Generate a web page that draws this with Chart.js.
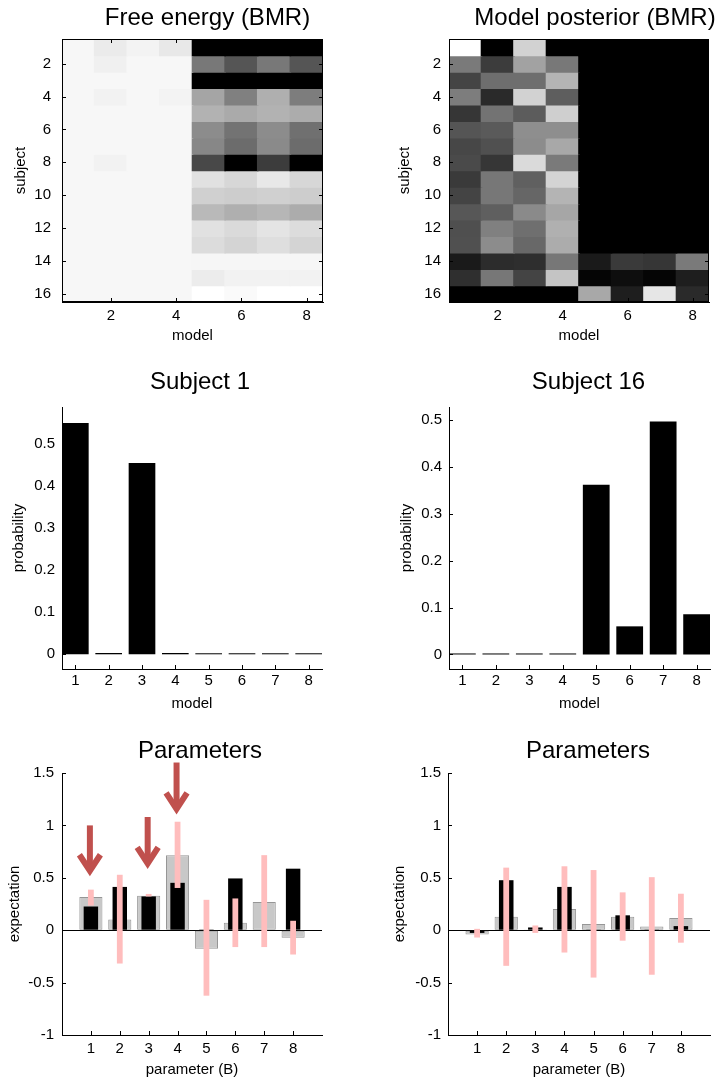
<!DOCTYPE html>
<html><head><meta charset="utf-8">
<script src="https://cdn.jsdelivr.net/npm/chart.js@4.4.1/dist/chart.umd.min.js"></script>
<style>
html,body{margin:0;padding:0;background:#fff;}
#wrap{position:relative;width:727px;height:1081px;overflow:hidden;background:#fff;}
canvas{position:absolute;}
</style></head><body><div id="wrap">
<canvas id="cTL" width="363" height="350" style="left:0px;top:0px"></canvas>
<canvas id="cTR" width="364" height="350" style="left:363px;top:0px"></canvas>
<canvas id="cML" width="363" height="370" style="left:0px;top:350px"></canvas>
<canvas id="cMR" width="364" height="370" style="left:363px;top:350px"></canvas>
<canvas id="cBL" width="363" height="361" style="left:0px;top:720px"></canvas>
<canvas id="cBR" width="364" height="361" style="left:363px;top:720px"></canvas>
</div>
<script>
// ---------------- data ----------------
const models = [1, 2, 3, 4, 5, 6, 7, 8];
const subjects = [1, 2, 3, 4, 5, 6, 7, 8, 9, 10, 11, 12, 13, 14, 15, 16];
const heatModelTicks = [2, 4, 6, 8];
const heatSubjectTicks = [2, 4, 6, 8, 10, 12, 14, 16];
const barModelTicks = [1, 2, 3, 4, 5, 6, 7, 8];
const probTicks = [0, 0.1, 0.2, 0.3, 0.4, 0.5];
const expectationTicks = [-1, -0.5, 0, 0.5, 1, 1.5];
const parameters = [1, 2, 3, 4, 5, 6, 7, 8];

// Free energy (BMR): grey level per cell (0 = black, 255 = white); rows = subjects, cols = models
const freeEnergyGray = [
  [247, 235, 243, 232,   0,   0,   0,   0],
  [247, 240, 247, 247, 120,  85, 120,  85],
  [247, 247, 247, 247,   0,   0,   0,   0],
  [247, 242, 247, 243, 165, 128, 175, 125],
  [247, 247, 247, 247, 178, 170, 178, 172],
  [247, 247, 247, 247, 140, 115, 140, 112],
  [247, 247, 247, 247, 135, 108, 138, 108],
  [247, 242, 247, 247,  72,   0,  60,   0],
  [247, 247, 247, 247, 225, 215, 232, 215],
  [247, 247, 247, 247, 208, 205, 208, 205],
  [247, 247, 247, 247, 185, 175, 182, 172],
  [247, 247, 247, 247, 225, 218, 228, 220],
  [247, 247, 247, 247, 220, 212, 222, 212],
  [247, 247, 247, 247, 246, 246, 246, 246],
  [247, 247, 247, 247, 236, 242, 242, 242],
  [247, 247, 247, 247, 255, 250, 255, 255]
];
// Model posterior (BMR): grey level per cell
const posteriorGray = [
  [255,   0, 210,   0,   0,   0,   0,   0],
  [122,  60, 162, 120,   0,   0,   0,   0],
  [ 68, 110, 110, 180,   0,   0,   0,   0],
  [125,  42, 210,  94,   0,   0,   0,   0],
  [ 54, 115,  92, 207,   0,   0,   0,   0],
  [ 85,  90, 142, 142,   0,   0,   0,   0],
  [ 71,  80, 140, 168,   0,   0,   0,   0],
  [ 74,  54, 218, 122,   0,   0,   0,   0],
  [ 58, 119,  96, 212,   0,   0,   0,   0],
  [ 68, 119, 102, 180,   0,   0,   0,   0],
  [ 87,  95, 138, 166,   0,   0,   0,   0],
  [ 79, 128, 111, 176,   0,   0,   0,   0],
  [ 80, 140, 104, 172,   0,   0,   0,   0],
  [ 26,  44,  46, 119,  26,  58,  54, 122],
  [ 47, 119,  68, 196,   5,  14,   5,  30],
  [  0,   0,   0,   0, 168,  30, 230,  42]
];

const subject1Prob  = [0.550, 0.003, 0.455, 0.003, 0.001, 0.001, 0.001, 0.001];
const subject16Prob = [0.002, 0.002, 0.002, 0.002, 0.362, 0.060, 0.497, 0.086];

// Parameters (subject 1)
const leftFull    = [0.316, 0.103, 0.329, 0.716, -0.177, 0.071, 0.268, -0.071];
const leftReduced = [0.226, 0.413, 0.322, 0.452, 0.002, 0.494, 0.005, 0.587];
const leftCILow   = [0.235, -0.318, 0.322, 0.403, -0.625, -0.161, -0.161, -0.232];
const leftCIHigh  = [0.387, 0.529, 0.346, 1.035, 0.290, 0.303, 0.716, 0.090];
const arrowParams = [1, 3, 4];
const arrowTail   = [1.00, 1.08, 1.60];
const arrowHead   = [0.51, 0.58, 1.10];

// Parameters (subject 16)
const rightFull    = [-0.040, 0.129, 0.006, 0.203, 0.058, 0.129, 0.035, 0.116];
const rightReduced = [-0.026, 0.477, 0.026, 0.413, 0.003, 0.142, 0.003, 0.039];
const rightCILow   = [-0.070, -0.340, -0.026, -0.213, -0.452, -0.100, -0.425, -0.119];
const rightCIHigh  = [0.013, 0.597, 0.045, 0.610, 0.574, 0.361, 0.506, 0.348];

// ---------------- styling / helpers ----------------
const FONT = "'Liberation Sans', Arial, Helvetica, sans-serif";
Chart.defaults.font.family = FONT;
Chart.defaults.color = '#000';

const titlePlugin = {
  id: 'panelTitle',
  afterDraw(chart, args, opts) {
    if (!opts || !opts.text) return;
    const {ctx, chartArea: a} = chart;
    ctx.save();
    ctx.font = '24px ' + FONT;
    ctx.fillStyle = '#000';
    ctx.textAlign = 'center';
    ctx.textBaseline = 'alphabetic';
    ctx.fillText(opts.text, (a.left + a.right) / 2 + opts.dx, a.top + opts.dy);
    ctx.restore();
  }
};

const ticksPlugin = {
  id: 'mticks',
  afterDatasetsDraw(chart, args, opts) {
    const {ctx, chartArea: a, scales} = chart;
    const len = 4;
    ctx.save();
    ctx.strokeStyle = '#000';
    ctx.lineWidth = 1;
    ctx.beginPath();
    scales.x.ticks.forEach(t => {
      const px = Math.round(scales.x.getPixelForValue(t.value)) + 0.5;
      ctx.moveTo(px, a.bottom); ctx.lineTo(px, a.bottom - len);
      if (opts.box) { ctx.moveTo(px, a.top); ctx.lineTo(px, a.top + len); }
    });
    scales.y.ticks.forEach(t => {
      const py = Math.round(scales.y.getPixelForValue(t.value)) + 0.5;
      ctx.moveTo(a.left, py); ctx.lineTo(a.left + len, py);
      if (opts.box) { ctx.moveTo(a.right, py); ctx.lineTo(a.right - len, py); }
    });
    ctx.stroke();
    if (opts.box) {
      ctx.strokeRect(Math.round(a.left) + 0.5, Math.round(a.top) + 0.5,
                     Math.round(a.right - a.left) - 1, Math.round(a.bottom - a.top) - 1);
    }
    ctx.restore();
  }
};

const arrowPlugin = {
  id: 'redArrows',
  afterDatasetsDraw(chart, args, opts) {
    if (!opts || !opts.show) return;
    const {ctx, scales: {x, y}} = chart;
    ctx.save();
    ctx.strokeStyle = 'rgb(192,80,77)';
    ctx.lineWidth = 6;
    ctx.lineCap = 'butt';
    ctx.lineJoin = 'miter';
    arrowParams.forEach((p, i) => {
      const px = x.getPixelForValue(p) - 1;
      const y0 = y.getPixelForValue(arrowTail[i]);
      const tip = y.getPixelForValue(arrowHead[i]) - 6;
      ctx.beginPath(); ctx.moveTo(px, y0); ctx.lineTo(px, tip - 2); ctx.stroke();
      ctx.beginPath(); ctx.moveTo(px - 10.5, tip - 16); ctx.lineTo(px, tip); ctx.lineTo(px + 10.5, tip - 16); ctx.stroke();
    });
    ctx.restore();
  }
};

function makeChart(id, o) {
  return new Chart(document.getElementById(id), {
    type: 'bar',
    data: {datasets: o.datasets},
    options: {
      responsive: false,
      animation: false,
      devicePixelRatio: 1,
      events: [],
      layout: {padding: o.pad},
      plugins: {
        legend: {display: false},
        tooltip: {enabled: false},
        title: {display: false},
        panelTitle: o.title,
        mticks: {box: !!o.box},
        redArrows: {show: !!o.arrows}
      },
      scales: {
        x: {
          type: 'linear', min: o.xmin, max: o.xmax, offset: false,
          afterBuildTicks: s => { s.ticks = o.xticks.map(v => ({value: v})); },
          afterFit: s => { s.height = o.xh; },
          grid: {display: false, drawTicks: false, offset: false},
          border: {display: true, color: '#000', width: 1},
          ticks: {padding: o.xtp, font: {size: 15}, color: '#000', maxRotation: 0, autoSkip: false,
                  callback: v => String(v)},
          title: {display: true, text: o.xlabel, font: {size: 15}, color: '#000',
                  padding: {top: 0, bottom: o.xlp}}
        },
        y: {
          type: 'linear', min: o.ymin, max: o.ymax, reverse: !!o.yrev, z: o.zeroLine ? 1 : 0,
          afterBuildTicks: s => { s.ticks = o.yticks.map(v => ({value: v})); },
          afterFit: s => { s.width = o.yw; },
          grid: o.zeroLine ? {
            display: true, drawTicks: false, drawOnChartArea: true, lineWidth: 1,
            color: c => (c.tick && c.tick.value === 0) ? '#000' : 'rgba(0,0,0,0)'
          } : {display: false, drawTicks: false},
          border: {display: true, color: '#000', width: 1},
          ticks: {padding: o.ytp, font: {size: 15}, color: '#000', autoSkip: false,
                  callback: v => String(v)},
          title: {display: true, text: o.ylabel, font: {size: 15}, color: '#000',
                  padding: {top: o.ylp, bottom: 0}}
        }
      }
    },
    plugins: [titlePlugin, ticksPlugin, arrowPlugin]
  });
}

function heatDatasets(matrix) {
  return subjects.map((s, i) => ({
    label: 'subject ' + s,
    data: models.map(m => ({x: m, y: [s - 0.5, s + 0.5]})),
    backgroundColor: matrix[i].map(g => 'rgb(' + g + ',' + g + ',' + g + ')'),
    borderWidth: 0, inflateAmount: 0.8, grouped: false, barPercentage: 1, categoryPercentage: 1
  }));
}

function probDataset(values) {
  return [{
    label: 'probability',
    data: models.map((m, i) => ({x: m, y: values[i]})),
    backgroundColor: '#000', borderWidth: 0, minBarLength: 1,
    grouped: false, barPercentage: 0.8, categoryPercentage: 1
  }];
}

function paramDatasets(full, reduced, lo, hi) {
  return [
    {label: 'CI', order: 0, data: parameters.map((p, i) => ({x: p, y: [lo[i], hi[i]]})),
     backgroundColor: 'rgb(255,189,189)', borderWidth: 0, grouped: false,
     barPercentage: 0.2, categoryPercentage: 1},
    {label: 'reduced', order: 1, data: parameters.map((p, i) => ({x: p, y: reduced[i]})),
     backgroundColor: '#000', borderWidth: 0, grouped: false,
     barPercentage: 0.5, categoryPercentage: 1},
    {label: 'full', order: 2, data: parameters.map((p, i) => ({x: p, y: full[i]})),
     backgroundColor: 'rgb(200,200,200)', borderColor: 'rgb(150,150,150)', borderWidth: 1,
     borderSkipped: false, grouped: false, barPercentage: 0.8, categoryPercentage: 1}
  ];
}

// ---------------- panels ----------------
makeChart('cTL', {
  datasets: heatDatasets(freeEnergyGray), box: true,
  title: {text: 'Free energy (BMR)', dx: 15, dy: -14},
  pad: {left: 0, top: 39, right: 40, bottom: 0}, yw: 62, xh: 48,
  xmin: 0.5, xmax: 8.5, xticks: heatModelTicks, xtp: 5, xlabel: 'model', xlp: 5,
  ymin: 0.5, ymax: 16.5, yrev: true, yticks: heatSubjectTicks, ytp: 11, ylabel: 'subject', ylp: 12
});
makeChart('cTR', {
  datasets: heatDatasets(posteriorGray), box: true,
  title: {text: 'Model posterior (BMR)', dx: 16, dy: -14},
  pad: {left: 0, top: 39, right: 18, bottom: 0}, yw: 86, xh: 48,
  xmin: 0.5, xmax: 8.5, xticks: heatModelTicks, xtp: 5, xlabel: 'model', xlp: 5,
  ymin: 0.5, ymax: 16.5, yrev: true, yticks: heatSubjectTicks, ytp: 8, ylabel: 'subject', ylp: 33
});
makeChart('cML', {
  datasets: probDataset(subject1Prob),
  title: {text: 'Subject 1', dx: 8, dy: -18},
  pad: {left: 0, top: 57, right: 41, bottom: 0}, yw: 62, xh: 51,
  xmin: 0.6, xmax: 8.4, xticks: barModelTicks, xtp: 3, xlabel: 'model', xlp: 7,
  ymin: -0.035, ymax: 0.588, yticks: probTicks, ytp: 7, ylabel: 'probability', ylp: 10
});
makeChart('cMR', {
  datasets: probDataset(subject16Prob),
  title: {text: 'Subject 16', dx: 9, dy: -18},
  pad: {left: 0, top: 57, right: 17, bottom: 0}, yw: 86, xh: 51,
  xmin: 0.6, xmax: 8.4, xticks: barModelTicks, xtp: 3, xlabel: 'model', xlp: 7,
  ymin: -0.031, ymax: 0.528, yticks: probTicks, ytp: 7, ylabel: 'probability', ylp: 35
});
makeChart('cBL', {
  datasets: paramDatasets(leftFull, leftReduced, leftCILow, leftCIHigh), zeroLine: true, arrows: true,
  title: {text: 'Parameters', dx: 8, dy: -15},
  pad: {left: 0, top: 53, right: 41, bottom: 0}, yw: 62, xh: 46,
  xmin: 0, xmax: 9, xticks: parameters, xtp: 5, xlabel: 'parameter (B)', xlp: 2,
  ymin: -1, ymax: 1.5, yticks: expectationTicks, ytp: 8, ylabel: 'expectation', ylp: 6
});
makeChart('cBR', {
  datasets: paramDatasets(rightFull, rightReduced, rightCILow, rightCIHigh), zeroLine: true,
  title: {text: 'Parameters', dx: 9, dy: -15},
  pad: {left: 0, top: 53, right: 17, bottom: 0}, yw: 85, xh: 46,
  xmin: 0, xmax: 9, xticks: parameters, xtp: 5, xlabel: 'parameter (B)', xlp: 2,
  ymin: -1, ymax: 1.5, yticks: expectationTicks, ytp: 7, ylabel: 'expectation', ylp: 28
});
</script>
</body></html>
